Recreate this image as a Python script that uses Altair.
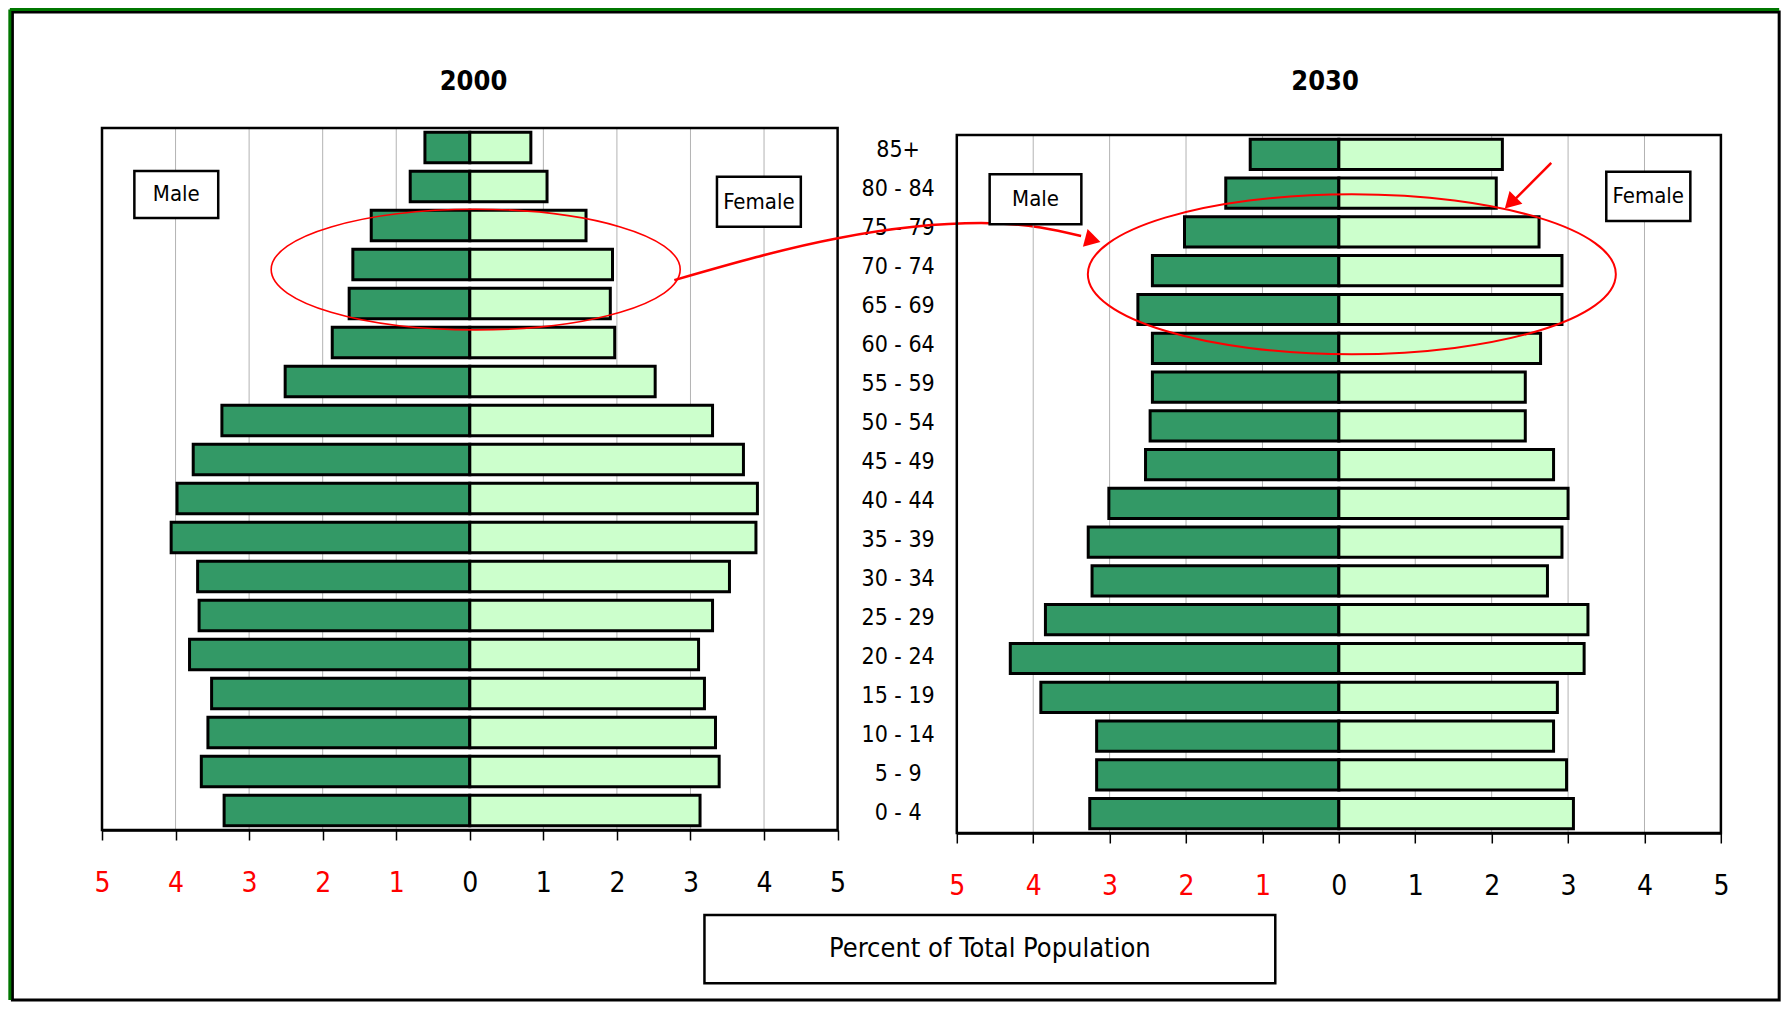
import json
import altair as alt
import pandas as pd

# ---------------- data ----------------
AGES = ["0 - 4", "5 - 9", "10 - 14", "15 - 19", "20 - 24", "25 - 29", "30 - 34",
        "35 - 39", "40 - 44", "45 - 49", "50 - 54", "55 - 59", "60 - 64", "65 - 69",
        "70 - 74", "75 - 79", "80 - 84", "85+"]
MALE_2000 = [3.34, 3.65, 3.56, 3.51, 3.81, 3.68, 3.70, 4.06, 3.98, 3.76, 3.37, 2.51,
             1.87, 1.64, 1.59, 1.34, 0.81, 0.61]
FEMALE_2000 = [3.13, 3.39, 3.34, 3.19, 3.11, 3.30, 3.53, 3.89, 3.91, 3.72, 3.30, 2.52,
               1.97, 1.91, 1.94, 1.58, 1.05, 0.83]
MALE_2030 = [3.26, 3.17, 3.17, 3.90, 4.30, 3.84, 3.23, 3.28, 3.01, 2.53, 2.47, 2.44,
             2.44, 2.63, 2.44, 2.02, 1.48, 1.16]
FEMALE_2030 = [3.07, 2.98, 2.81, 2.86, 3.21, 3.26, 2.73, 2.92, 3.00, 2.81, 2.44, 2.44,
               2.64, 2.92, 2.92, 2.62, 2.06, 2.14]
X_TICKS = [-5, -4, -3, -2, -1, 0, 1, 2, 3, 4, 5]
GRID_TICKS = [-4, -3, -2, -1, 1, 2, 3, 4]
SEXES = ["Male", "Female"]
YEARS = ["2000", "2030"]
AXIS_TITLE = "Percent of Total Population"

# ---------------- styling ----------------
FONT = "Liberation Sans Narrow, Arial Narrow, DejaVu Sans Condensed, Liberation Sans, Arial, sans-serif"
MALE_COLOR = "#339966"
FEMALE_COLOR = "#CCFFCC"
RED = "#FF0000"
N = len(AGES)
XDOM = [-5, 5]


def ellipse_path(e):
    k = 0.5523
    return (f"M 1 0 C 1 {k*e:.4f} {k:.4f} {e:.4f} 0 {e:.4f} "
            f"C {-k:.4f} {e:.4f} -1 {k*e:.4f} -1 0 "
            f"C -1 {-k*e:.4f} {-k:.4f} {-e:.4f} 0 {-e:.4f} "
            f"C {k:.4f} {-e:.4f} 1 {-k*e:.4f} 1 0 Z")


def bar_table(male, female):
    rows = []
    for i, age in enumerate(AGES):
        rows.append(dict(age=age, idx=i, sex=SEXES[0], v0=-male[i], v1=0.0))
        rows.append(dict(age=age, idx=i, sex=SEXES[1], v0=0.0, v1=female[i]))
    return pd.DataFrame(rows)


def xaxis():
    return alt.Axis(
        values=X_TICKS, labelExpr="abs(datum.value)",
        labelColor={"condition": {"test": "datum.value < 0", "value": RED}, "value": "black"},
        labelFont=FONT, labelFontSize=28, labelBaseline="middle", labelPadding=43,
        labelFlush=False, labelOverlap=False, labelBound=False,
        ticks=True, tickSize=10, tickColor="black", tickWidth=1.5,
        domain=True, domainColor="black", domainWidth=2.5, grid=False, title=None)


def age_axis():
    return alt.Axis(
        orient="right", values=[i + 0.5 for i in range(N)],
        labelExpr=f"{json.dumps(AGES)}[floor(datum.value)]",
        labelAlign="center", labelBaseline="middle", labelPadding=60, labelOffset=2,
        labelFont=FONT, labelFontSize=23, labelColor="black",
        ticks=False, tickSize=0, domain=False, grid=False, title=None,
        labelOverlap=False, labelFlush=False, labelBound=False)


ONE = pd.DataFrame({"k": [0]})


class Ctx:
    def __init__(self, ymax, with_age_axis):
        self.xsc = alt.Scale(domain=XDOM, nice=False, zero=False)
        self.ysc = alt.Scale(domain=[0, ymax], nice=False, zero=False)
        self.with_age_axis = with_age_axis

    def X(self, field=None, datum=None):
        if datum is not None:
            return alt.X(datum=datum, scale=self.xsc, axis=xaxis())
        return alt.X(field, type="quantitative", scale=self.xsc, axis=xaxis())

    def Y(self, field=None, datum=None):
        ax = age_axis() if self.with_age_axis else None
        if datum is not None:
            return alt.Y(datum=datum, scale=self.ysc, axis=ax)
        return alt.Y(field, type="quantitative", scale=self.ysc, axis=ax)


def panel(c, male, female, title_xy, boxes, extra):
    grid = alt.Chart(pd.DataFrame({"x": GRID_TICKS})).mark_rule(
        color="#B3B3B3", strokeWidth=1).encode(
        x=c.X("x"), y=c.Y(datum=0), y2=alt.Y2(datum=N))

    frame = alt.Chart(ONE).mark_rect(fillOpacity=0, stroke="black", strokeWidth=2.5).encode(
        x=c.X(datum=XDOM[0]), x2=alt.X2(datum=XDOM[1]),
        y=c.Y(datum=0), y2=alt.Y2(datum=N))

    bars = alt.Chart(bar_table(male, female)).transform_calculate(
        y0="datum.idx + 0.11", y1="datum.idx + 0.89"
    ).mark_rect(stroke="black", strokeWidth=3).encode(
        x=c.X("v0"), x2="v1:Q",
        y=c.Y("y0"), y2="y1:Q",
        color=alt.Color("sex:N", scale=alt.Scale(domain=SEXES, range=[MALE_COLOR, FEMALE_COLOR]),
                        legend=None))

    bdf = pd.DataFrame(boxes)
    bdf["tx"] = (bdf["x0"] + bdf["x1"]) / 2
    bdf["ty"] = (bdf["y0"] + bdf["y1"]) / 2
    box = alt.Chart(bdf).mark_rect(fill="white", stroke="black", strokeWidth=2.5).encode(
        x=c.X("x0"), x2="x1:Q", y=c.Y("y0"), y2="y1:Q")
    btxt = alt.Chart(bdf).mark_text(font=FONT, fontSize=22, color="black",
                                    align="center", baseline="middle").encode(
        x=c.X("tx"), y=c.Y("ty"), text="label:N")

    title = alt.Chart(pd.DataFrame([title_xy])).mark_text(
        font=FONT, fontSize=27, fontWeight="bold", color="black",
        align="center", baseline="middle").encode(
        x=c.X("x"), y=c.Y("y"), text="label:N")

    return [grid, frame, bars, box, btxt, title] + [e(c) for e in extra]


def ellipse_layer(cx, cy, rx_px, ratio, width):
    def f(c):
        return alt.Chart(pd.DataFrame({"cx": [cx], "cy": [cy]})).mark_point(
            shape=ellipse_path(ratio), size=(2 * rx_px) ** 2, filled=False,
            color=RED, strokeWidth=width, opacity=1).encode(x=c.X("cx"), y=c.Y("cy"))
    return f


def arrow_layer(xs, ys, head, angle, interp):
    def f(c):
        line = alt.Chart(pd.DataFrame({"x": xs, "y": ys, "o": list(range(len(xs)))})).mark_line(
            color=RED, strokeWidth=2.5, interpolate=interp).encode(
            x=c.X("x"), y=c.Y("y"), order="o:Q")
        hd = alt.Chart(pd.DataFrame({"x": [head[0]], "y": [head[1]]})).mark_point(
            shape="triangle-right", filled=True, color=RED, size=330, angle=angle,
            opacity=1, strokeWidth=0).encode(x=c.X("x"), y=c.Y("y"))
        return alt.layer(line, hd)
    return f


def outer_frame(c):
    fr = alt.Chart(ONE).mark_rect(fillOpacity=0, stroke="black", strokeWidth=3).encode(
        x=c.X(datum=-6.218), x2=alt.X2(datum=17.80),
        y=c.Y(datum=20.974), y2=alt.Y2(datum=-4.359))
    top = alt.Chart(ONE).mark_rule(color="#007700", strokeWidth=3).encode(
        x=c.X(datum=-6.253), x2=alt.X2(datum=17.80), y=c.Y(datum=21.038))
    left = alt.Chart(ONE).mark_rule(color="#007700", strokeWidth=3).encode(
        x=c.X(datum=-6.253), y=c.Y(datum=21.038), y2=alt.Y2(datum=-4.359))
    return alt.layer(fr, top, left)


def percent_box(c):
    d = pd.DataFrame({"x0": [3.19], "x1": [10.95], "y0": [-3.93], "y1": [-2.18],
                      "label": [AXIS_TITLE]})
    d["tx"] = (d["x0"] + d["x1"]) / 2
    d["ty"] = (d["y0"] + d["y1"]) / 2
    r = alt.Chart(d).mark_rect(fill="white", stroke="black", strokeWidth=2.5).encode(
        x=c.X("x0"), x2="x1:Q", y=c.Y("y0"), y2="y1:Q")
    t = alt.Chart(d).mark_text(font=FONT, fontSize=27, color="black",
                               align="center", baseline="middle").encode(
        x=c.X("tx"), y=c.Y("ty"), text="label:N")
    return alt.layer(r, t)


RIGHT_YMAX = 18 * 705 / 698

cl = Ctx(N, True)
left_layers = panel(
    cl, MALE_2000, FEMALE_2000,
    {"x": 0.05, "y": 19.17, "label": YEARS[0]},
    [{"x0": -4.56, "x1": -3.42, "y0": 15.69, "y1": 16.90, "label": SEXES[0]},
     {"x0": 3.36, "x1": 4.50, "y0": 15.47, "y1": 16.75, "label": SEXES[1]}],
    [ellipse_layer(0.08, 14.37, 204.5, 0.295, 1.6),
     arrow_layer([2.78, 5.02, 7.06, 8.31], [14.10, 15.18, 15.56, 15.23], (8.47, 15.13), 15, "natural"),
     percent_box])
left = alt.layer(outer_frame(cl), *left_layers).properties(width=735.6, height=702)

cr = Ctx(RIGHT_YMAX, False)
right_layers = panel(
    cr, MALE_2030, FEMALE_2030,
    {"x": -0.18, "y": 19.36, "label": YEARS[1]},
    [{"x0": -4.57, "x1": -3.37, "y0": 15.70, "y1": 16.99, "label": SEXES[0]},
     {"x0": 3.50, "x1": 4.60, "y0": 15.78, "y1": 17.05, "label": SEXES[1]}],
    [ellipse_layer(0.17, 14.41, 264, 0.303, 2.0),
     arrow_layer([2.78, 2.31], [17.28, 16.35], (2.245, 16.25), 135, "linear")])
right = alt.layer(*right_layers).properties(width=764.1, height=705)

chart = alt.hconcat(left, right, spacing=118.8, bounds="flush").properties(
    padding=0, background="white"
).configure_view(stroke=None)

chart.save("out.html", embed_options={"renderer": "svg", "actions": False})
